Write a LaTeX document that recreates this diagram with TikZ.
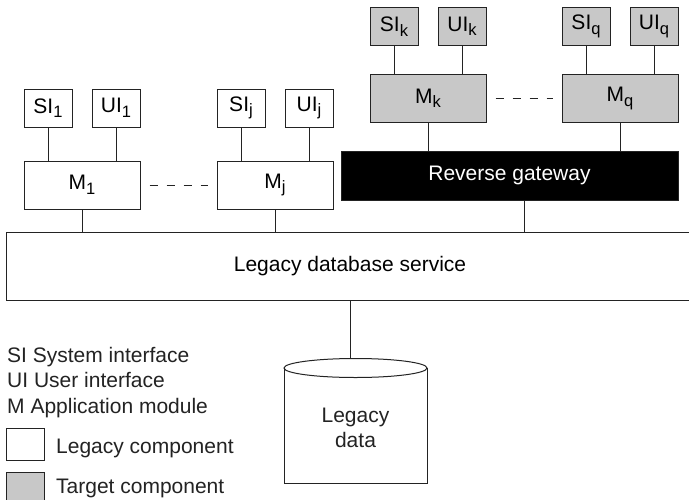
\documentclass[tikz,border=0pt]{standalone}
\usepackage{fontspec}
\setmainfont{Liberation Sans}
\definecolor{tgray}{RGB}{200,200,200}
\definecolor{ink}{RGB}{35,35,35}
\newcommand{\mysub}[1]{\raisebox{-4.5pt}{\fontsize{16.5}{16.5}\selectfont #1}}
\tikzset{
  every node/.style={font=\fontsize{21}{25}\selectfont},
  ib/.style={draw=ink, line width=1pt, inner sep=0pt, minimum width=48pt, minimum height=38pt},
  mb/.style={draw=ink, line width=1pt, inner sep=0pt, minimum width=116pt, minimum height=48pt},
  leg/.style={fill=white},
  tgt/.style={fill=tgray},
  conn/.style={draw=ink, line width=0.9pt},
  dotsline/.style={draw=ink, line width=0.9pt, dash pattern=on 8pt off 9pt},
  legtext/.style={anchor=base west, inner sep=0pt, text=ink}
}
\begin{document}
\begin{tikzpicture}[x=1pt,y=-1pt]
\useasboundingbox (0,0) rectangle (689,499);
\fill[white] (0,0) rectangle (689,499);

% legacy modules
\node[ib, leg] (si1) at (48,108) {SI\mysub{1}};
\node[ib, leg] (ui1) at (116,108) {UI\mysub{1}};
\node[mb, leg] (m1) at (82,185) {M\mysub{1}};
\node[ib, leg] (sij) at (241,108) {SI\mysub{j}};
\node[ib, leg] (uij) at (309,108) {UI\mysub{j}};
\node[mb, leg] (mj) at (275,185) {M\mysub{j}};

% target modules
\node[ib, tgt] (sik) at (394,26.5) {SI\mysub{k}};
\node[ib, tgt] (uik) at (462,26.5) {UI\mysub{k}};
\node[mb, tgt] (mk) at (428,98.5) {M\mysub{k}};
\node[ib, tgt] (siq) at (586,26.5) {SI\mysub{q}};
\node[ib, tgt] (uiq) at (654,26.5) {UI\mysub{q}};
\node[mb, tgt] (mq) at (620,98.5) {M\mysub{q}};

% reverse gateway
\node[draw=ink, fill=black, text=white, line width=1pt, inner sep=0pt,
      minimum width=337pt, minimum height=49pt] (rg) at (509.5,175.5) {Reverse gateway};

% legacy database service
\node[draw=ink, fill=white, line width=1pt, inner sep=0pt,
      minimum width=688pt, minimum height=68pt] (lds) at (350,266) {Legacy database service};

% legacy data cylinder
\node[inner sep=0pt, minimum width=143pt, minimum height=125pt] (db) at (355.5,420.5) {};
\draw[draw=ink, line width=1pt, fill=white] (284,368) -- (284,483) -- (427,483) -- (427,368);
\draw[draw=ink, line width=1pt, fill=white] (355.5,368) ellipse [x radius=71.5pt, y radius=9.5pt];
\node[align=center, inner sep=0pt, text=ink] (dbl) at (355.5,428) {Legacy\\data};

% connectors
\foreach \a/\b in {si1/m1, ui1/m1, sij/mj, uij/mj, sik/mk, uik/mk, siq/mq, uiq/mq}{
  \draw[conn] (\a.south) -- (\a.south |- \b.north);
}
\draw[conn] (m1.south) -- (m1.south |- lds.north);
\draw[conn] (mj.south) -- (mj.south |- lds.north);
\draw[conn] (mk.south) -- (mk.south |- rg.north);
\draw[conn] (mq.south) -- (mq.south |- rg.north);
\draw[conn] ([xshift=14.5pt]rg.south) -- ([xshift=14.5pt]rg.south |- lds.north);
\draw[conn] (lds.south) -- (lds.south |- db.north);

\draw[dotsline] ([xshift=9pt]m1.east) -- ([xshift=-9pt]mj.west);
\draw[dotsline] ([xshift=9pt]mk.east) -- ([xshift=-9pt]mq.west);

% legend
\node[legtext] (l1) at (7,362) {SI System interface};
\node[legtext] (l2) at (7,387) {UI User interface};
\node[legtext] (l3) at (7,413) {M Application module};
\node[draw=ink, fill=white, line width=1pt, inner sep=0pt, minimum width=38pt, minimum height=32pt] (kl) at (25,444) {};
\node[legtext] (klt) at (56,453) {Legacy component};
\node[draw=ink, fill=tgray, line width=1pt, inner sep=0pt, minimum width=38pt, minimum height=32pt] (kt) at (25,488) {};
\node[legtext] (ktt) at (56,493) {Target component};
\end{tikzpicture}
\end{document}
